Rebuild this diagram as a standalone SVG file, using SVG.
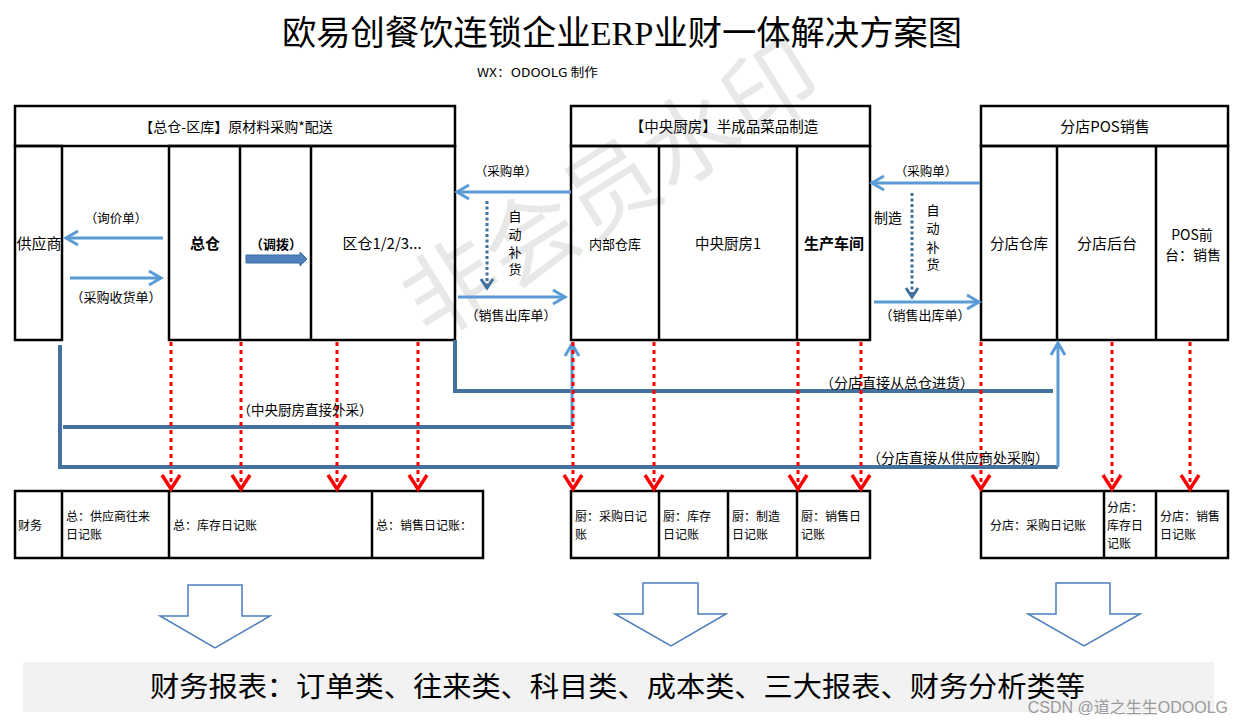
<svg xmlns="http://www.w3.org/2000/svg" width="1244" height="725" viewBox="0 0 1244 725">
<style>
.t{font-family:"Noto Sans CJK SC","Liberation Sans",sans-serif;font-size:13px;fill:#000}
.s{font-size:12px}
.m{text-anchor:middle}
.b{font-weight:bold}
.box{fill:none;stroke:#000;stroke-width:2.5}
.ln{stroke:#000;stroke-width:2.5}
.lb{stroke:#5B9BD5;stroke-width:3;fill:none}
.db{stroke:#44729E;stroke-width:4;fill:none}
.dot{stroke:#41719C;stroke-width:3;stroke-dasharray:3 2.5;fill:none}
.rd{stroke:#FF0000;stroke-width:3;stroke-dasharray:4 4;fill:none}
.ha{fill:#fff;stroke:#4A7EBB;stroke-width:1.5}
</style>
<defs>
<marker id="mb" markerUnits="userSpaceOnUse" markerWidth="18" markerHeight="18" viewBox="0 0 18 18" refX="15" refY="9" orient="auto">
<path d="M3,2 L15,9 L3,16" fill="none" stroke="#5B9BD5" stroke-width="3"/>
</marker>
<marker id="mr" markerUnits="userSpaceOnUse" markerWidth="20" markerHeight="22" viewBox="0 0 20 22" refX="16" refY="11" orient="auto">
<path d="M2,2 L16,11 L2,20" fill="none" stroke="#FF0000" stroke-width="3.5"/>
</marker>
<marker id="md" markerUnits="userSpaceOnUse" markerWidth="14" markerHeight="16" viewBox="0 0 14 16" refX="11" refY="8" orient="auto">
<path d="M2,2 L11,8 L2,14" fill="none" stroke="#41719C" stroke-width="3"/>
</marker>
</defs>
<rect width="1244" height="725" fill="#fff"/>
<g id="watermark">
<text class="t" x="612" y="222" transform="rotate(-32 612 190)" text-anchor="middle" style="font-size:94px;fill:#000;fill-opacity:0.09">非会员水印</text>
</g>
<g id="title">
<text x="622" y="45" text-anchor="middle" textLength="680" lengthAdjust="spacingAndGlyphs" style="font-family:'Liberation Serif','Noto Sans CJK SC',serif;font-size:34px;fill:#000">欧易创餐饮连锁企业ERP业财一体解决方案图</text>
<text class="t" x="477" y="77" textLength="121" lengthAdjust="spacingAndGlyphs" style="font-size:12px">WX：ODOOLG 制作</text>
</g>
<g id="node-zongcang">
<rect class="box" x="15" y="106" width="440" height="40"/>
<text class="t m" x="236" y="132" style="font-size:14px">【总仓-区库】原材料采购*配送</text>
<rect class="box" x="15" y="146" width="47" height="194"/>
<rect class="box" x="169" y="146" width="286" height="194"/>
<line class="ln" x1="240" y1="146" x2="240" y2="340"/>
<line class="ln" x1="311" y1="146" x2="311" y2="340"/>
<text class="t m" x="39" y="249" style="font-size:15px">供应商</text>
<text class="t m b" x="205" y="249" style="font-size:15px">总仓</text>
<text class="t m b" x="276" y="249">（调拨）</text>
<text class="t m" x="382" y="249" style="font-size:15px">区仓1/2/3...</text>
</g>
<g id="node-central-kitchen">
<rect class="box" x="571" y="106" width="299" height="40"/>
<text class="t m" x="724" y="132" style="font-size:14.5px">【中央厨房】半成品菜品制造</text>
<rect class="box" x="571" y="146" width="299" height="194"/>
<line class="ln" x1="659" y1="146" x2="659" y2="340"/>
<line class="ln" x1="797" y1="146" x2="797" y2="340"/>
<text class="t m" x="615" y="249">内部仓库</text>
<text class="t m" x="728" y="249" style="font-size:14.5px">中央厨房1</text>
<text class="t m b" x="834" y="249" style="font-size:15px">生产车间</text>
</g>
<g id="node-store">
<rect class="box" x="981" y="106" width="247" height="40"/>
<text class="t m" x="1105" y="132" style="font-size:15px">分店POS销售</text>
<rect class="box" x="981" y="146" width="247" height="194"/>
<line class="ln" x1="1057" y1="146" x2="1057" y2="340"/>
<line class="ln" x1="1156" y1="146" x2="1156" y2="340"/>
<text class="t m" x="1019" y="249" style="font-size:14.5px">分店仓库</text>
<text class="t m" x="1107" y="249" style="font-size:15px">分店后台</text>
<text class="t m" x="1192" y="240" style="font-size:14px">POS前</text>
<text class="t m" x="1193" y="260" style="font-size:14px">台：销售</text>
</g>
<g id="node-fin-zong">
<rect class="box" x="15" y="491" width="468" height="67"/>
<line class="ln" x1="62" y1="491" x2="62" y2="558"/>
<line class="ln" x1="169" y1="491" x2="169" y2="558"/>
<line class="ln" x1="372" y1="491" x2="372" y2="558"/>
<text class="t s" x="18" y="530">财务</text>
<text class="t s" x="66" y="521">总：供应商往来</text>
<text class="t s" x="66" y="539">日记账</text>
<text class="t s" x="173" y="530">总：库存日记账</text>
<text class="t s" x="376" y="530">总：销售日记账：</text>
</g>
<g id="node-fin-chu">
<rect class="box" x="571" y="491" width="299" height="67"/>
<line class="ln" x1="659" y1="491" x2="659" y2="558"/>
<line class="ln" x1="728" y1="491" x2="728" y2="558"/>
<line class="ln" x1="797" y1="491" x2="797" y2="558"/>
<text class="t s" x="575" y="521">厨：采购日记</text>
<text class="t s" x="575" y="539">账</text>
<text class="t s" x="663" y="521">厨：库存</text>
<text class="t s" x="663" y="539">日记账</text>
<text class="t s" x="732" y="521">厨：制造</text>
<text class="t s" x="732" y="539">日记账</text>
<text class="t s" x="801" y="521">厨：销售日</text>
<text class="t s" x="801" y="539">记账</text>
</g>
<g id="node-fin-store">
<rect class="box" x="981" y="491" width="247" height="67"/>
<line class="ln" x1="1104" y1="491" x2="1104" y2="558"/>
<line class="ln" x1="1156" y1="491" x2="1156" y2="558"/>
<text class="t s" x="990" y="530">分店：采购日记账</text>
<text class="t s" x="1107" y="512">分店：</text>
<text class="t s" x="1107" y="530">库存日</text>
<text class="t s" x="1107" y="548">记账</text>
<text class="t s" x="1160" y="521">分店：销售</text>
<text class="t s" x="1160" y="539">日记账</text>
</g>
<g id="connectors">
<path class="lb" d="M163,238 H66" marker-end="url(#mb)"/>
<path class="lb" d="M70,278 H161" marker-end="url(#mb)"/>
<path d="M246,255 H300 V252 L307,259 L300,266 V263 H246 Z" fill="#4F81BD" stroke="#3C6A9E" stroke-width="1"/>
<path class="lb" d="M571,192 H457" marker-end="url(#mb)"/>
<path class="lb" d="M458,297 H565" marker-end="url(#mb)"/>
<path class="dot" d="M487,201 V288" marker-end="url(#md)"/>
<path class="lb" d="M980,183 H872" marker-end="url(#mb)"/>
<path class="lb" d="M874,302 H979" marker-end="url(#mb)"/>
<path class="dot" d="M912,193 V297" marker-end="url(#md)"/>
<path class="db" d="M60,345 V467 H1058"/>
<path class="db" d="M63,427 H573"/>
<path class="db" d="M455,340 V391 H1053"/>
<path class="lb" d="M572,427 V344" marker-end="url(#mb)"/>
<path class="lb" d="M1058,467 V343" marker-end="url(#mb)"/>
<path class="rd" d="M171,342 V489" marker-end="url(#mr)"/>
<path class="rd" d="M241,342 V489" marker-end="url(#mr)"/>
<path class="rd" d="M337,342 V489" marker-end="url(#mr)"/>
<path class="rd" d="M418,342 V489" marker-end="url(#mr)"/>
<path class="rd" d="M573,342 V489" marker-end="url(#mr)"/>
<path class="rd" d="M654,342 V489" marker-end="url(#mr)"/>
<path class="rd" d="M798,342 V489" marker-end="url(#mr)"/>
<path class="rd" d="M861,342 V489" marker-end="url(#mr)"/>
<path class="rd" d="M981,342 V489" marker-end="url(#mr)"/>
<path class="rd" d="M1112,342 V489" marker-end="url(#mr)"/>
<path class="rd" d="M1190,342 V489" marker-end="url(#mr)"/>
<text class="t m" x="116" y="223" style="font-size:12.5px">（询价单）</text>
<text class="t m" x="116" y="302">（采购收货单）</text>
<text class="t m" x="506" y="176" style="font-size:12.5px">（采购单）</text>
<text class="t m" x="511" y="320">（销售出库单）</text>
<text class="t m" x="515" y="221">自</text>
<text class="t m" x="515" y="239">动</text>
<text class="t m" x="515" y="257">补</text>
<text class="t m" x="515" y="274">货</text>
<text class="t m" x="926" y="176" style="font-size:12.5px">（采购单）</text>
<text class="t m" x="925" y="320">（销售出库单）</text>
<text class="t m" x="888" y="223" style="font-size:14px">制造</text>
<text class="t m" x="933" y="215">自</text>
<text class="t m" x="933" y="233">动</text>
<text class="t m" x="933" y="252">补</text>
<text class="t m" x="933" y="269">货</text>
<text class="t m" x="305" y="415" style="font-size:13.5px">（中央厨房直接外采）</text>
<text class="t m" x="897" y="388" style="font-size:14px">（分店直接从总仓进货）</text>
<text class="t m" x="958" y="463" style="font-size:14px">（分店直接从供应商处采购）</text>
</g>
<g id="report-arrows">
<path class="ha" d="M188,585 H242 V616 H270 L215,648 L160,616 H188 Z"/>
<path class="ha" d="M643,583 H698 V614 H726 L671,646 L615,614 H643 Z"/>
<path class="ha" d="M1056,583 H1110 V614 H1140 L1084,646 L1028,614 H1056 Z"/>
</g>
<g id="node-report">
<rect x="23" y="662" width="1191" height="50" fill="#F2F2F2"/>
<text class="t" x="150" y="697" textLength="935" lengthAdjust="spacingAndGlyphs" style="font-size:28px">财务报表：订单类、往来类、科目类、成本类、三大报表、财务分析类等</text>
</g>
<g id="csdn">
<text x="1228" y="713" text-anchor="end" style="font-family:'Liberation Sans','Noto Sans CJK SC',sans-serif;font-size:16px;fill:#9a9a9a">CSDN @道之生生ODOOLG</text>
</g>
</svg>
